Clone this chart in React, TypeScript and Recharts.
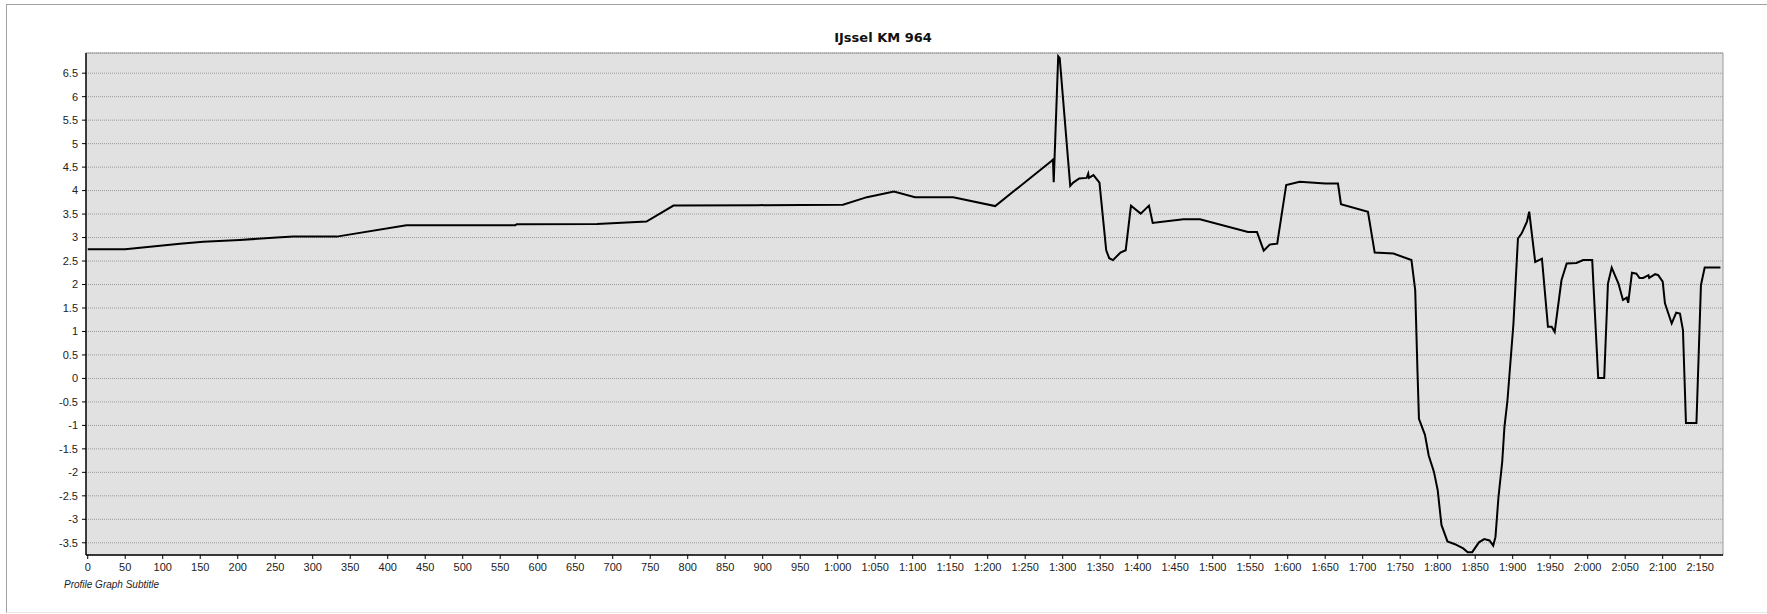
import React from 'react';
import { LineChart, Line, XAxis, YAxis, CartesianGrid, ReferenceLine } from 'recharts';

const DISTANCE = [
  0, 50, 123, 154, 203, 252, 274, 332, 425, 570, 572, 679, 745, 781, 894, 1007,
  1039, 1075, 1103, 1154, 1210, 1285, 1287, 1288, 1294, 1296, 1310, 1314, 1322,
  1332, 1334, 1335, 1341, 1349, 1358, 1362, 1367, 1377, 1384, 1391, 1404, 1415,
  1420, 1430, 1461, 1483, 1547, 1559, 1568, 1576, 1586, 1598, 1616, 1650, 1667,
  1671, 1707, 1716, 1741, 1765, 1770, 1773, 1775, 1783, 1788, 1795, 1800, 1805,
  1813, 1823, 1834, 1840, 1846, 1855, 1862, 1869, 1874, 1877, 1881, 1886, 1889,
  1893, 1901, 1907, 1912, 1919, 1922, 1930, 1939, 1947, 1952, 1956, 1965, 1972,
  1985, 1994, 2006, 2014, 2022, 2027, 2032, 2041, 2047, 2052, 2054, 2059, 2065,
  2069, 2074, 2081, 2082, 2090, 2094, 2100, 2103, 2112, 2118, 2123, 2127, 2131,
  2145, 2151, 2156, 2177
];

const HEIGHT = [
  2.75, 2.75, 2.87, 2.91, 2.95, 3.0, 3.02, 3.02, 3.26, 3.26, 3.285, 3.29, 3.34,
  3.68, 3.69, 3.7, 3.86, 3.98, 3.86, 3.86, 3.67, 4.63, 4.66, 4.18, 6.86, 6.82,
  4.1, 4.17, 4.26, 4.27, 4.36, 4.27, 4.33, 4.17, 2.73, 2.56, 2.52, 2.68, 2.73,
  3.68, 3.51, 3.68, 3.31, 3.33, 3.39, 3.39, 3.12, 3.12, 2.72, 2.85, 2.87, 4.12,
  4.19, 4.15, 4.15, 3.71, 3.55, 2.68, 2.66, 2.52, 1.88, 0.17, -0.86, -1.2, -1.64,
  -1.99, -2.38, -3.12, -3.47, -3.53, -3.62, -3.7, -3.7, -3.49, -3.42, -3.45,
  -3.56, -3.38, -2.53, -1.78, -1.03, -0.47, 1.17, 2.98, 3.09, 3.34, 3.55, 2.48,
  2.55, 1.1, 1.1, 0.99, 2.09, 2.45, 2.46, 2.52, 2.52, 0.01, 0.01, 2.02, 2.36,
  2.02, 1.67, 1.72, 1.61, 2.25, 2.23, 2.14, 2.14, 2.2, 2.14, 2.22, 2.2, 2.06,
  1.6, 1.17, 1.4, 1.38, 1.03, -0.95, -0.95, 1.99, 2.36, 2.36
];

const X_TICKS = [
  0, 50, 100, 150, 200, 250, 300, 350, 400, 450, 500, 550, 600, 650, 700, 750,
  800, 850, 900, 950, 1000, 1050, 1100, 1150, 1200, 1250, 1300, 1350, 1400, 1450,
  1500, 1550, 1600, 1650, 1700, 1750, 1800, 1850, 1900, 1950, 2000, 2050, 2100, 2150
];

const Y_TICKS = [
  -3.5, -3, -2.5, -2, -1.5, -1, -0.5, 0, 0.5, 1, 1.5, 2, 2.5, 3, 3.5, 4, 4.5, 5,
  5.5, 6, 6.5
];

const X_DOMAIN: [number, number] = [-2.3, 2180.4];
const Y_DOMAIN: [number, number] = [-3.76, 6.93];

const data = DISTANCE.map((d, i) => ({ d, h: HEIGHT[i] }));

// the source tool writes thousands as "1:050"
const formatDistance = (v: number) =>
  v >= 1000 ? `${Math.floor(v / 1000)}:${String(v % 1000).padStart(3, '0')}` : String(v);

const FONT = '"Liberation Sans", Arial, sans-serif';

export default function App() {
  return (
    <div style={{ position: 'absolute', left: 0, top: 0, width: 1767, height: 614, background: '#fff', fontFamily: FONT, overflow: 'hidden' }}>
      <div
        style={{
          position: 'absolute', left: 6, top: 4, width: 1780, height: 607,
          borderTop: '1px solid #a0a0a0', borderLeft: '1px solid #a0a0a0', borderBottom: '1px solid #e8e8e8'
        }}
      />
      <div style={{ position: 'absolute', left: 0, width: 1766, top: 30, lineHeight: '16px', textAlign: 'center', fontSize: 13, fontWeight: 'bold', color: '#111', fontFamily: '"DejaVu Sans", sans-serif' }}>
        IJssel KM 964
      </div>
      <LineChart
        width={1767}
        height={614}
        data={data}
        margin={{ top: 53, right: 44, bottom: 29, left: 26 }}
        style={{ position: 'absolute', left: 0, top: 0 }}
      >
        <CartesianGrid vertical={false} stroke="#9a9a9a" strokeDasharray="1 1" fill="#e1e1e1" />
        <XAxis
          type="number"
          dataKey="d"
          domain={X_DOMAIN}
          ticks={X_TICKS}
          interval={0}
          tickFormatter={formatDistance}
          height={30}
          tickSize={4}
          tickMargin={4}
          axisLine={{ stroke: '#000', strokeWidth: 1.5 }}
          tickLine={{ stroke: '#000' }}
          tick={{ fill: '#222', fontSize: 11, fontFamily: FONT }}
        />
        <YAxis
          type="number"
          domain={Y_DOMAIN}
          ticks={Y_TICKS}
          interval={0}
          width={60}
          tickSize={4}
          tickMargin={4}
          axisLine={{ stroke: '#000', strokeWidth: 1.5 }}
          tickLine={{ stroke: '#000' }}
          tick={{ fill: '#222', fontSize: 11, fontFamily: FONT }}
        />
        <ReferenceLine y={Y_DOMAIN[1]} stroke="#9a9a9a" />
        <ReferenceLine x={X_DOMAIN[1]} stroke="#9a9a9a" />
        <Line
          type="linear"
          dataKey="h"
          stroke="#000"
          strokeWidth={2}
          dot={false}
          isAnimationActive={false}
        />
      </LineChart>
      <div style={{ position: 'absolute', left: 64, top: 578, lineHeight: '13px', fontSize: 10, fontStyle: 'italic', color: '#222' }}>
        Profile Graph Subtitle
      </div>
    </div>
  );
}
